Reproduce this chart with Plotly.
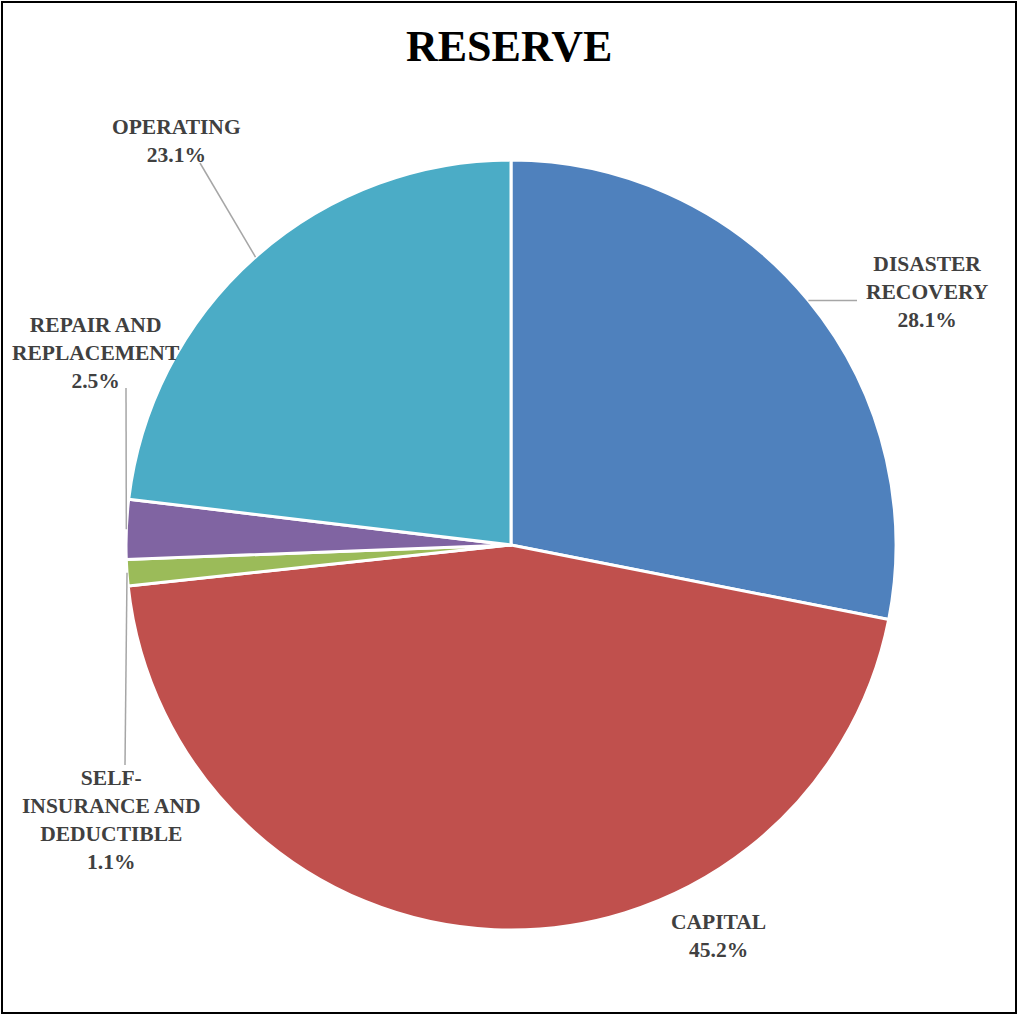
import math
import plotly.graph_objects as go

# ---- data ----
categories = ["DISASTER<br>RECOVERY", "CAPITAL", "SELF-<br>INSURANCE AND<br>DEDUCTIBLE",
              "REPAIR AND<br>REPLACEMENT", "OPERATING"]
shares = [28.1, 45.2, 1.1, 2.5, 23.1]
colors = ["#4F81BD", "#C0504D", "#9BBB59", "#8064A2", "#4BACC6"]
title_text = "RESERVE"

W, H = 1018, 1015
CX, CY, R = 511, 545, 385  # pie centre / radius in pixels (layout)

# label anchor positions (pixels, layout) and leader-line end points
label_pos = [(927, 292), (718, 936), (111, 820), (96, 353), (176, 141)]
leader_end = [(857, None), None, (125, 765), (126, 388), (200, 163)]

fig = go.Figure()
fig.add_trace(go.Pie(
    labels=categories, values=shares, sort=False, direction="clockwise", rotation=0,
    marker=dict(colors=colors, line=dict(color="white", width=3)),
    textinfo="none", hoverinfo="label+percent", showlegend=False,
    domain=dict(x=[(CX - R) / W, (CX + R) / W], y=[1 - (CY + R) / H, 1 - (CY - R) / H]),
))

def px(x, y):
    return x / W, 1 - y / H

shapes = []
annotations = []
total = sum(shares)
cum = 0
for i, (cat, v) in enumerate(zip(categories, shares)):
    mid = (cum + v / 2) / total * 2 * math.pi
    cum += v
    ex = CX + R * math.sin(mid)
    ey = CY - R * math.cos(mid)
    lx, ly = label_pos[i]
    annotations.append(dict(
        x=lx / W, y=1 - ly / H, xref="paper", yref="paper",
        text=f"<b>{cat}<br>{v:.1f}%</b>", showarrow=False, align="center",
        font=dict(family="Liberation Serif", size=21.5, color="#404040"),
        xanchor="center", yanchor="middle",
    ))
    le = leader_end[i]
    if le is not None:
        tx, ty = le
        if ty is None:
            ty = ey
        x0, y0 = px(ex, ey)
        x1, y1 = px(tx, ty)
        shapes.append(dict(type="line", xref="paper", yref="paper", x0=x0, y0=y0, x1=x1, y1=y1,
                           line=dict(color="#A6A6A6", width=1.5)))

# outer border
shapes.append(dict(type="rect", xref="paper", yref="paper",
                   x0=2 / W, y0=1 - 1013 / H, x1=1016 / W, y1=1 - 2 / H,
                   line=dict(color="black", width=2)))

annotations.append(dict(
    x=0.5, y=1 - 47 / H, xref="paper", yref="paper", text=f"<b>{title_text}</b>",
    showarrow=False, xanchor="center", yanchor="middle",
    font=dict(family="Liberation Serif", size=44, color="black"),
))

fig.update_layout(
    width=W, height=H, margin=dict(l=0, r=0, t=0, b=0),
    paper_bgcolor="white", plot_bgcolor="white",
    shapes=shapes, annotations=annotations,
)

fig.write_html("out.html", config={"displayModeBar": False},
               post_script="document.body.style.margin='0';document.body.style.overflow='hidden';")
